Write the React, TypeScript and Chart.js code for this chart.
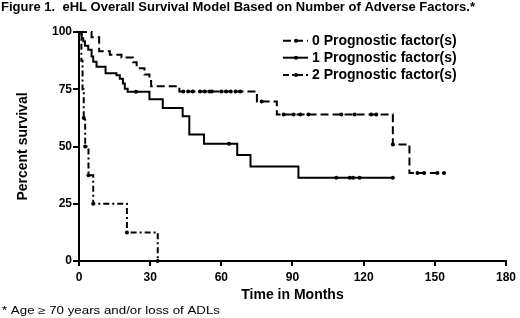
import React, { useEffect, useRef } from "react";
import { Chart, registerables } from "chart.js";

Chart.register(...registerables);

const FONT = "'Liberation Sans', Arial, Helvetica, sans-serif";

// ---- data ----
const TITLE = "Figure 1.  eHL Overall Survival Model Based on Number of Adverse Factors.*";
const FOOTNOTE = "* Age \u2265 70 years and/or loss of ADLs";
const X_TITLE = "Time in Months";
const Y_TITLE = "Percent survival";
const SERIES_LABELS = ["0 Prognostic factor(s)", "1 Prognostic factor(s)", "2 Prognostic factor(s)"];
const X_TICKS = [0, 30, 60, 90, 120, 150, 180];
const Y_TICKS = [0, 25, 50, 75, 100];

// 0 prognostic factors (step curve)
const months0 = [0, 5.3, 8.5, 13, 17.9, 22.7, 24.3, 27.6, 29.7, 30.4, 42.3, 75, 83.4, 132.3, 139.3, 153.9];
const surv0 = [100, 97.7, 91.6, 90.1, 88.9, 86.8, 84.2, 81.4, 78.6, 76.3, 74, 69.7, 64, 50.9, 38.4, 38.4];
const censorMonths0 = [44, 46, 48, 51, 53, 55, 56, 60, 62, 64, 66, 68, 77, 86.3, 90.5, 93.3, 96.7, 110.6, 116.2, 123.2, 125.3, 132.3, 142.7, 145.5, 151.1, 153.9];
const censorSurv0 = [74, 74, 74, 74, 74, 74, 74, 74, 74, 74, 74, 74, 69.7, 64, 64, 64, 64, 64, 64, 64, 64, 50.9, 38.4, 38.4, 38.4, 38.4];

// 1 prognostic factor
const months1 = [0, 1.1, 1.8, 2.5, 3.9, 5.3, 6, 7.4, 11.2, 15.8, 17.2, 18.5, 19.3, 20.5, 29.7, 35.3, 43.7, 46.5, 52.7, 66.7, 72.3, 92.5, 132.3];
const surv1 = [100, 97.3, 96, 94, 92.3, 89.3, 87, 84.8, 82, 81.1, 79.6, 77.5, 75.2, 73.9, 70.6, 66.8, 63.2, 55.2, 51.2, 46.3, 41.3, 36.4, 36.4];
const censorMonths1 = [24, 63.2, 108.5, 114.1, 115.5, 118.3, 132.3];
const censorSurv1 = [73.9, 51.2, 36.4, 36.4, 36.4, 36.4, 36.4];

// 2 prognostic factors
const months2 = [0, 1, 1.5, 2, 2.6, 4, 6, 20.2, 33.2];
const surv2 = [100, 87.5, 75, 62.5, 50, 37.5, 25, 12.5, 0];
const censorMonths2 = [2, 2.6, 4, 6, 20.2, 33.2];
const censorSurv2 = [62.5, 50, 37.5, 25, 12.5, 0];

const DASHES: number[][] = [[8, 4], [], [6, 3, 2, 3]];

function pts(xs: number[], ys: number[]) {
  return xs.map((x, i) => ({ x, y: ys[i] }));
}

const textPlugin = {
  id: "extraText",
  afterDraw(chart: any) {
    const ctx = chart.ctx as CanvasRenderingContext2D;
    ctx.save();
    ctx.fillStyle = "#000";
    // title
    ctx.font = `bold 12.5px ${FONT}`;
    ctx.textBaseline = "alphabetic";
    ctx.textAlign = "left";
    let w = ctx.measureText(TITLE).width;
    ctx.save();
    ctx.translate(1, 11);
    ctx.scale(474 / w, 1);
    ctx.fillText(TITLE, 0, 0);
    ctx.restore();
    // footnote
    ctx.font = `10.5px ${FONT}`;
    w = ctx.measureText(FOOTNOTE).width;
    ctx.save();
    ctx.translate(2, 314);
    ctx.scale(218 / w, 1);
    ctx.fillText(FOOTNOTE, 0, 0);
    ctx.restore();
    // legend
    const rowsY = [40.7, 57.7, 75];
    ctx.font = `bold 14px ${FONT}`;
    ctx.textBaseline = "middle";
    SERIES_LABELS.forEach((lab, i) => {
      const y = rowsY[i];
      ctx.strokeStyle = "#000";
      ctx.lineWidth = 2;
      ctx.setLineDash(DASHES[i]);
      ctx.beginPath();
      ctx.moveTo(283, y);
      ctx.lineTo(308, y);
      ctx.stroke();
      ctx.setLineDash([]);
      ctx.beginPath();
      ctx.arc(296, y, 2, 0, Math.PI * 2);
      ctx.fill();
      ctx.fillText(lab, 312, y + 0.5);
    });
    ctx.restore();
  },
};

export default function App() {
  const ref = useRef<HTMLCanvasElement | null>(null);
  useEffect(() => {
    document.body.style.margin = "0";
    const canvas = ref.current;
    if (!canvas) return;
    const stepData = [pts(months0, surv0), pts(months1, surv1), pts(months2, surv2)];
    const censorData = [pts(censorMonths0, censorSurv0), pts(censorMonths1, censorSurv1), pts(censorMonths2, censorSurv2)];
    const datasets: any[] = [];
    for (let i = 0; i < 3; i++) {
      datasets.push({
        label: SERIES_LABELS[i],
        data: stepData[i],
        stepped: "before",
        borderColor: "#000",
        borderWidth: 2,
        borderDash: DASHES[i],
        pointRadius: 0,
        fill: false,
        clip: false,
      });
      datasets.push({
        label: SERIES_LABELS[i] + " censored",
        data: censorData[i],
        showLine: false,
        pointRadius: 2,
        pointStyle: "circle",
        pointBackgroundColor: "#000",
        pointBorderColor: "#000",
        pointBorderWidth: 0,
        clip: false,
      });
    }
    const chart = new Chart(canvas, {
      type: "line",
      data: { datasets },
      options: {
        animation: false,
        responsive: false,
        maintainAspectRatio: false,
        layout: { padding: { top: 32, right: 11, left: 0, bottom: 0 } },
        plugins: { legend: { display: false }, tooltip: { enabled: false }, title: { display: false } },
        scales: {
          x: {
            type: "linear",
            min: 0,
            max: 180,
            afterBuildTicks: (s: any) => { s.ticks = X_TICKS.map((v) => ({ value: v })); },
            afterFit: (s: any) => { s.height = 57; },
            grid: { display: true, drawOnChartArea: false, drawTicks: true, tickLength: 5, color: "#000", lineWidth: 2 },
            border: { display: true, color: "#000", width: 2 },
            ticks: { color: "#000", font: { family: FONT, size: 12, weight: "bold" }, padding: 4, maxRotation: 0 },
            title: { display: true, text: X_TITLE, color: "#000", font: { family: FONT, size: 14, weight: "bold" }, padding: { top: 0, bottom: 14.6 } },
          },
          y: {
            type: "linear",
            min: 0,
            max: 100,
            afterBuildTicks: (s: any) => { s.ticks = Y_TICKS.map((v) => ({ value: v })); },
            afterFit: (s: any) => { s.width = 79; },
            grid: { display: true, drawOnChartArea: false, drawTicks: true, tickLength: 6, color: "#000", lineWidth: 2 },
            border: { display: true, color: "#000", width: 2 },
            ticks: { color: "#000", font: { family: FONT, size: 12, weight: "bold" }, padding: 1 },
            title: { display: true, text: Y_TITLE, color: "#000", font: { family: FONT, size: 14, weight: "bold" }, padding: { top: 15, bottom: 0 } },
          },
        },
      },
      plugins: [textPlugin],
    } as any);
    return () => chart.destroy();
  }, []);
  return (
    <div style={{ width: 520, height: 318, background: "#fff" }}>
      <canvas ref={ref} width={520} height={318} style={{ display: "block" }} />
    </div>
  );
}
